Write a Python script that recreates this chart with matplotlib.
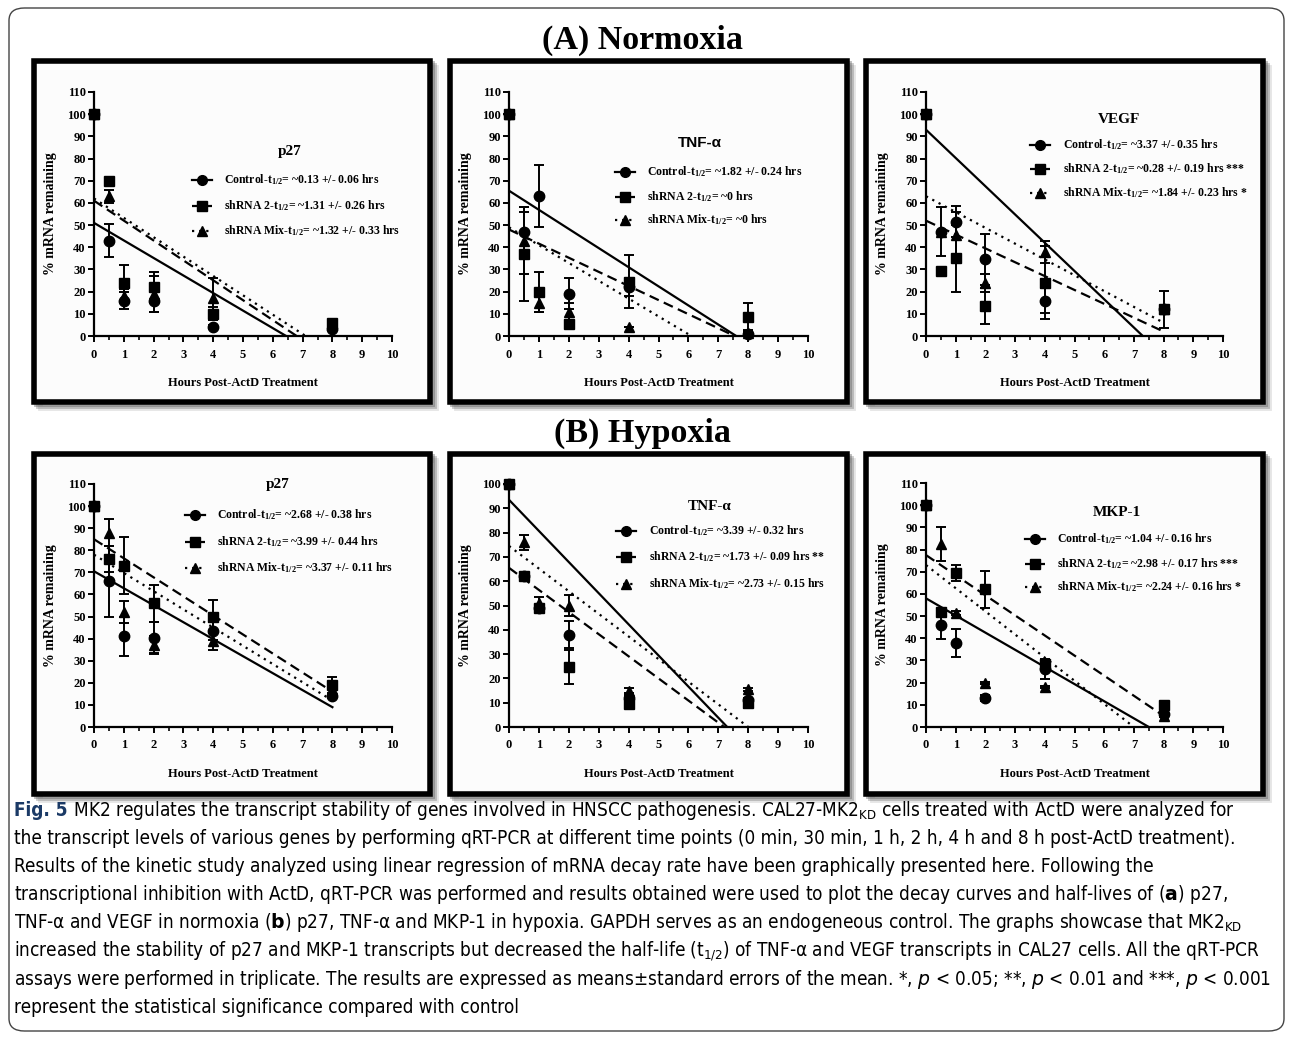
import numpy as np
import matplotlib
matplotlib.use('Agg')
import matplotlib.pyplot as plt
from matplotlib import font_manager
from matplotlib.ft2font import FT2Font
from matplotlib.lines import Line2D
from matplotlib.patches import Rectangle, FancyBboxPatch

W, H = 1290, 1038

# ---- data ----
hours = [0, 0.5, 1, 2, 4, 8]

# mean % mRNA remaining, rows = Control, shRNA 2, shRNA Mix
norm_p27_mean = [[100, 43, 16, 16, 4, 3], [100, 70, 24, 22, 10, 6], [100, 63, 18, 19, 17, 5]]
norm_p27_sem = [[0, 7.5, 4, 5, 1, 0.5], [0, 0, 8, 7, 3, 1], [0, 3, 3, 8, 9, 1]]
norm_p27_fit = [[51, -7.91], [61, -8.97], [62, -8.73]]  # intercept, slope

norm_tnf_mean = [[100, 47, 63, 19, 22, 1], [100, 37, 20, 5.5, 24.5, 8.5], [100, 43, 15, 11, 4, 1.5]]
norm_tnf_sem = [[0, 9, 14, 7, 4, 1], [0, 21, 9, 1, 12, 6.3], [0, 15, 4, 4, 0, 1]]
norm_tnf_fit = [[65.5, -8.62], [48, -6.36], [49, -8.03]]

norm_vegf_mean = [[100, 47, 51.5, 34.5, 16, 12], [100, 29.5, 35, 13.5, 24, 12], [100, 47, 45.5, 24, 38, 12]]
norm_vegf_sem = [[0, 0, 7, 11.5, 5.5, 0], [0, 0, 15, 8, 16.5, 8.3], [0, 11, 10.5, 4, 5, 0]]
norm_vegf_fit = [[93, -12.74], [52, -6.25], [63, -7.125]]

hyp_p27_mean = [[100, 66, 41, 40.5, 43.5, 14], [100, 76, 73, 56, 50, 19], [100, 88, 52, 37, 39, 17]]
hyp_p27_sem = [[0, 16, 9, 7, 4, 1], [0, 6, 13, 8.5, 7.5, 3.5], [0, 6, 5, 4, 4, 2]]
hyp_p27_fit = [[70.5, -7.69], [85, -8.625], [78, -8.25]]

hyp_tnf_mean = [[100, 62, 49, 38, 12, 11], [100, 62, 49, 24.5, 9.5, 10], [100, 76, 51, 50, 15, 15.5]]
hyp_tnf_sem = [[0, 1, 1, 5.5, 1, 1], [0, 1, 1, 7, 1, 2], [0, 3, 2.5, 4.5, 1, 0.5]]
hyp_tnf_fit = [[93.5, -12.81], [65.5, -9.10], [74.5, -9.31]]

hyp_mkp_mean = [[100, 46, 38, 13, 26, 6], [100, 52, 69.5, 62, 28.5, 10], [100, 82.5, 51.5, 20, 18, 5]]
hyp_mkp_sem = [[0, 6.5, 6.3, 1.5, 4.5, 1], [0, 1, 3.5, 8.5, 1, 1], [0, 7.5, 1, 0.5, 0.5, 0.5]]
hyp_mkp_fit = [[58, -7.73], [77.5, -9.06], [73, -10.43]]

series_names = ['Control', 'shRNA 2', 'shRNA Mix']
genes = ['p27', 'TNF-α', 'VEGF', 'p27', 'TNF-α', 'MKP-1']
half_lives = [
    ['~0.13 +/- 0.06 hrs', '~1.31 +/- 0.26 hrs', '~1.32 +/- 0.33 hrs'],
    ['~1.82 +/- 0.24 hrs', '~0 hrs', '~0 hrs'],
    ['~3.37 +/- 0.35 hrs', '~0.28 +/- 0.19 hrs ***', '~1.84 +/- 0.23 hrs *'],
    ['~2.68 +/- 0.38 hrs', '~3.99 +/- 0.44 hrs', '~3.37 +/- 0.11 hrs'],
    ['~3.39 +/- 0.32 hrs', '~1.73 +/- 0.09 hrs **', '~2.73 +/- 0.15 hrs'],
    ['~1.04 +/- 0.16 hrs', '~2.98 +/- 0.17 hrs ***', '~2.24 +/- 0.16 hrs *'],
]
means = [norm_p27_mean, norm_tnf_mean, norm_vegf_mean, hyp_p27_mean, hyp_tnf_mean, hyp_mkp_mean]
sems = [norm_p27_sem, norm_tnf_sem, norm_vegf_sem, hyp_p27_sem, hyp_tnf_sem, hyp_mkp_sem]
fits = [norm_p27_fit, norm_tnf_fit, norm_vegf_fit, hyp_p27_fit, hyp_tnf_fit, hyp_mkp_fit]
ymax = [110, 110, 110, 110, 100, 110]

caption = [
    ' MK2 regulates the transcript stability of genes involved in HNSCC pathogenesis. CAL27-MK2$_{KD}$ cells treated with ActD were analyzed for',
    'the transcript levels of various genes by performing qRT-PCR at different time points (0 min, 30 min, 1 h, 2 h, 4 h and 8 h post-ActD treatment).',
    'Results of the kinetic study analyzed using linear regression of mRNA decay rate have been graphically presented here. Following the',
    'transcriptional inhibition with ActD, qRT-PCR was performed and results obtained were used to plot the decay curves and half-lives of ($\\mathbf{a}$) p27,',
    'TNF-α and VEGF in normoxia ($\\mathbf{b}$) p27, TNF-α and MKP-1 in hypoxia. GAPDH serves as an endogeneous control. The graphs showcase that MK2$_{KD}$',
    'increased the stability of p27 and MKP-1 transcripts but decreased the half-life (t$_{1/2}$) of TNF-α and VEGF transcripts in CAL27 cells. All the qRT-PCR',
    'assays were performed in triplicate. The results are expressed as means±standard errors of the mean. *, $\\mathit{p}$ < 0.05; **, $\\mathit{p}$ < 0.01 and ***, $\\mathit{p}$ < 0.001',
    'represent the statistical significance compared with control',
]

# ---- layout (pixels) ----
ax_boxes = [(94, 392, 92, 336), (509, 808, 92, 336), (926, 1223, 92, 336),
            (94, 392, 484, 727), (509, 808, 484, 727), (926, 1223, 483, 727)]
frame_x = [(31, 433), (447, 850), (863, 1266)]
frame_y = [(58, 405), (451, 797)]
gene_pos = [(290, 152), (700, 143), (1119, 120), (278, 485), (710, 507), (1117, 513)]
leg_pos = [(192, 224, [180, 206, 231]), (615, 647, [172, 197, 220]), (1030, 1063, [145, 169, 193]),
           (185, 217, [515, 542, 568]), (616, 649, [531, 557, 584]), (1025, 1057, [539, 564, 587])]
markers = ['o', 's', '^']
marker_z = [4, 5, 3]
styles = ['-', (0, (4.5, 2.5)), (0, (1, 2.2))]


# caption font: a narrow sans with bold and Greek if one is installed
def has_alpha(path):
    try:
        return FT2Font(path).get_char_index(0x3B1) != 0
    except Exception:
        return False


cap_family, cap_stretch = 'Liberation Sans', 'normal'
groups = {}
for f in font_manager.fontManager.ttflist:
    narrow_name = 'Narrow' in f.name or 'Condensed' in f.name
    narrow_str = f.stretch in ('condensed', 'semi-condensed')
    if (narrow_name or narrow_str) and f.style == 'normal':
        groups.setdefault((f.name, f.stretch), []).append(f)
pref = ['Liberation Sans Narrow', 'DejaVu Sans', 'Noto Sans', 'Roboto', 'Open Sans']
best = None
for (name, stretch), fl in groups.items():
    w = [int(f.weight) if str(f.weight).isdigit() else (700 if 'bold' in str(f.weight) else 400) for f in fl]
    regular = [f for f, ww in zip(fl, w) if 380 <= ww <= 500 and has_alpha(f.fname)]
    bold = [ww for ww in w if ww >= 600]
    if not regular or not bold:
        continue
    rank = next((k for k, p in enumerate(pref) if name.startswith(p)), len(pref))
    if best is None or rank < best[0]:
        best = (rank, name, stretch)
if best is not None:
    cap_family, cap_stretch = best[1], best[2]

plt.rcParams['font.family'] = ['Liberation Serif', 'DejaVu Serif']
plt.rcParams['mathtext.fontset'] = 'custom'
plt.rcParams['mathtext.default'] = 'regular'
plt.rcParams['mathtext.rm'] = cap_family
plt.rcParams['mathtext.it'] = cap_family + ':italic'
plt.rcParams['mathtext.bf'] = cap_family + ':bold'


def fx(x):
    return x / W


def fy(y):
    return 1 - y / H


fig = plt.figure(figsize=(W / 100, H / 100), dpi=100)
fig.patch.set_facecolor('white')

# outer rounded box
fig.add_artist(FancyBboxPatch((fx(9), fy(1031)), fx(1284) - fx(9), fy(8) - fy(1031),
                              boxstyle='round,pad=0,rounding_size=0.012', transform=fig.transFigure,
                              fill=False, edgecolor='#444444', linewidth=1.0, zorder=-3))

fig.text(fx(642), fy(49), '(A) Normoxia', ha='center', va='baseline', fontsize=24.5, fontweight='bold')
fig.text(fx(642), fy(442), '(B) Hypoxia', ha='center', va='baseline', fontsize=24.5, fontweight='bold')

# panel frames with shadow, kept behind the axes
for (y0, y1) in frame_y:
    for (x0, x1) in frame_x:
        for off, a in [(6, 0.15), (4, 0.3), (2, 0.4)]:
            fig.add_artist(Rectangle((fx(x0 + 3 + off), fy(y1 - 3 + off)), (x1 - x0 - 6) / W, (y1 - y0 - 6) / H,
                                     transform=fig.transFigure, fill=False, edgecolor='#555555',
                                     linewidth=3.5, alpha=a, zorder=-2))
        fig.add_artist(Rectangle((fx(x0 + 3), fy(y1 - 3)), (x1 - x0 - 6) / W, (y1 - y0 - 6) / H,
                                 transform=fig.transFigure, facecolor='#fcfcfc', edgecolor='black',
                                 linewidth=4.0, zorder=-1))

for i in range(6):
    x0, x1, yt, yb = ax_boxes[i]
    ax = fig.add_axes([fx(x0), fy(yb), (x1 - x0) / W, (yb - yt) / H])
    ax.patch.set_alpha(0)
    for s in range(3):
        b, m = fits[i][s]
        x_end = min(8, -b / m)
        xs = np.array([0, x_end])
        ax.plot(xs, b + m * xs, color='black', linestyle=styles[s], linewidth=1.6)
        ax.errorbar(hours, means[i][s], yerr=sems[i][s], fmt=markers[s], color='black',
                    markersize=7 if s else 7.5, elinewidth=1.4, capsize=3.5, capthick=1.4, clip_on=False,
                    zorder=marker_z[s])
    ax.set_xlim(0, 10)
    ax.set_ylim(0, ymax[i])
    ax.set_xticks(range(0, 11))
    ax.set_xticks(np.arange(0.5, 10, 1), minor=True)
    ax.set_yticks(range(0, ymax[i] + 1, 10))
    for side in ['top', 'right']:
        ax.spines[side].set_visible(False)
    for side in ['left', 'bottom']:
        ax.spines[side].set_linewidth(1.6)
    ax.tick_params(which='major', direction='out', length=4, width=1.4, labelsize=9)
    ax.tick_params(axis='x', pad=5)
    ax.tick_params(axis='y', pad=2)
    ax.tick_params(which='minor', direction='out', length=3, width=1.2)
    for lab in ax.get_xticklabels() + ax.get_yticklabels():
        lab.set_fontweight('bold')
    ax.set_ylabel('% mRNA remaining', fontsize=10, fontweight='bold')
    ax.set_xlabel('Hours Post-ActD Treatment', fontsize=9, fontweight='bold')
    ax.yaxis.set_label_coords(-37 / (x1 - x0), 0.5)
    ax.xaxis.set_label_coords(0.5, -41 / (yb - yt))

    gx, gy = gene_pos[i]
    fam = ['Liberation Sans', 'DejaVu Sans'] if i == 1 else None
    fig.text(fx(gx), fy(gy), genes[i], ha='center', va='center', fontsize=11,
             fontweight='bold', family=fam)

    lx, tx, rows = leg_pos[i]
    for s in range(3):
        fig.add_artist(Line2D([fx(lx), fx(lx + 20)], [fy(rows[s]), fy(rows[s])], transform=fig.transFigure,
                              color='black', linestyle=styles[s], linewidth=1.6))
        fig.add_artist(Line2D([fx(lx + 10)], [fy(rows[s])], transform=fig.transFigure, color='black',
                              marker=markers[s], markersize=7, linestyle='none'))
        fig.text(fx(tx), fy(rows[s]), series_names[s] + '-t$_{1/2}$= ' + half_lives[i][s],
                 ha='left', va='center', fontsize=8.5, fontweight='bold')

# caption, sized so the widest line spans the box
cap_kw = dict(family=[cap_family, 'DejaVu Sans'], fontstretch=cap_stretch)
widths = []
for k, line in enumerate(caption):
    probe = fig.text(0, 0, ('Fig. 5' if k == 0 else '') + line, fontsize=10, **cap_kw)
    fig.canvas.draw()
    widths.append(probe.get_window_extent().width)
    probe.remove()
cap_size = 10 * 1256 / max(widths)

figlab = fig.text(fx(14), fy(816), 'Fig. 5', fontsize=cap_size, fontweight='bold',
                  color='#1b3a66', va='baseline', **cap_kw)
fig.canvas.draw()
lab_w = figlab.get_window_extent().width
fig.text(fx(14 + lab_w), fy(816), caption[0], fontsize=cap_size, va='baseline', **cap_kw)
for k in range(1, len(caption)):
    fig.text(fx(14), fy(816 + 28.1 * k), caption[k], fontsize=cap_size, va='baseline', **cap_kw)

fig.savefig('out.png', dpi=100)
